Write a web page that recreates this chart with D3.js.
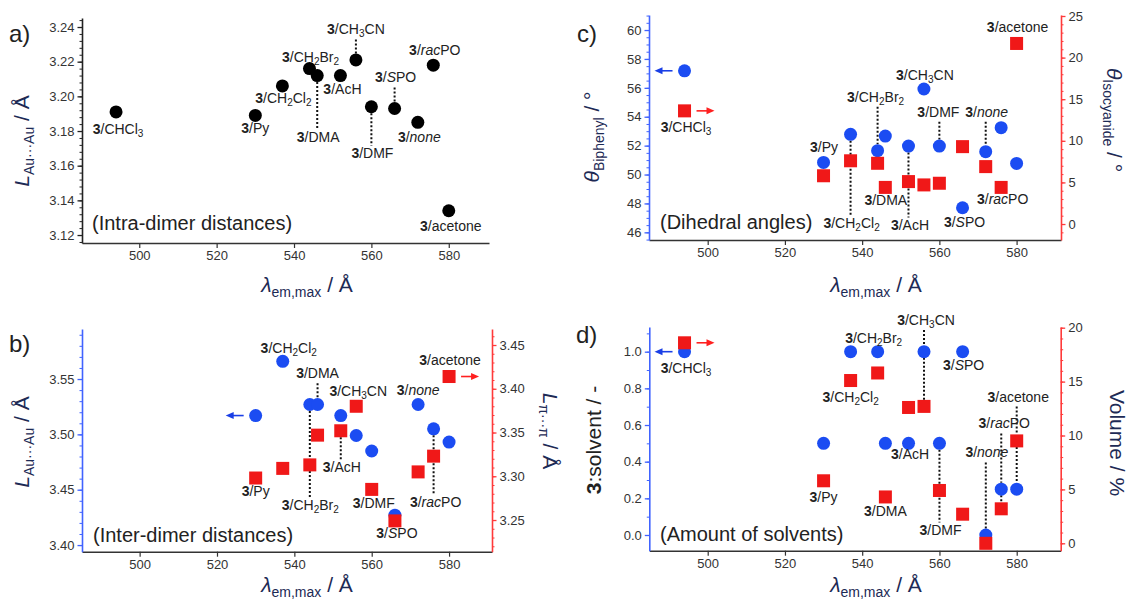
<!DOCTYPE html>
<html><head><meta charset="utf-8">
<script src="https://cdn.jsdelivr.net/npm/d3@7"></script>
<style>
body{margin:0;background:#fff;}
svg{display:block;font-family:"Liberation Sans",Arial,sans-serif;}
</style></head><body>
<svg id="chart" width="1131" height="608"></svg>
<script>
// ---------------- DATA ----------------
const categories = ["CHCl3","Py","CH2Cl2","CH2Br2","DMA","AcH","CH3CN","DMF","SPO","none","racPO","acetone"];
const lambdaEmMax = [494,530,537,544,546,552,556,560,566,572,576,580];
const intraDimerAuAu = [3.191,3.189,3.206,3.216,3.212,3.212,3.221,3.194,3.193,3.185,3.218,3.134];
const interDimerAuAu = [null,3.517,3.566,3.527,3.527,3.517,3.499,3.485,3.427,3.527,3.505,3.493];
const interDimerPiPi = [null,3.298,3.309,3.313,3.347,3.352,3.380,3.285,3.249,3.305,3.323,3.414];
const thetaBiphenyl = [57.18,50.84,52.78,51.65,52.66,51.97,55.92,51.97,47.70,51.58,53.24,50.77];
const thetaIsocyanide = [13.6,5.8,7.6,7.3,4.4,5.1,4.7,4.9,9.3,6.9,4.4,21.7];
const solventRatio = [1.0,0.5,1.0,1.0,0.5,0.5,1.0,0.5,1.0,0.0,0.25,0.25];
const solventVolume = [18.6,5.8,15.1,15.8,4.3,12.6,12.7,4.9,2.7,0.0,3.2,9.5];
const xTickValues = [500,520,540,560,580];
const labelMarkup = {CHCl3:"CHCl_3",Py:"Py",CH2Cl2:"CH_2Cl_2",CH2Br2:"CH_2Br_2",DMA:"DMA",AcH:"AcH",
  CH3CN:"CH_3CN",DMF:"DMF",SPO:"*S*PO",none:"*none*",racPO:"*rac*PO",acetone:"acetone"};

// ---------------- STYLE ----------------
const BLUE="#1b4cf2", RED="#f01818", AXBLUE="#4063ff", AXRED="#ff3a3a", TITLE="#1d2a55", TICK="#333";
const R=6.5, SQ=13;
const svg = d3.select("#chart");

function parseMarkup(str){
  const segs=[]; let it=false;
  for(let i=0;i<str.length;i++){
    const ch=str[i];
    if(ch==='*'){it=!it;continue;}
    if(ch==='_'){segs.push({t:str[i+1],sub:true,i:it});i++;continue;}
    const last=segs[segs.length-1];
    if(last && !last.sub && !!last.i===it && !last.b) last.t+=ch; else segs.push({t:ch,i:it});
  }
  return segs;
}
function richText(parent,x,y,segs,o){
  o=Object.assign({size:14,subSize:10,subDy:3,anchor:"middle",fill:"#222",transform:null},o||{});
  const t=parent.append("text").attr("x",x).attr("y",y).attr("text-anchor",o.anchor)
    .attr("font-size",o.size).attr("fill",o.fill);
  if(o.transform) t.attr("transform",o.transform);
  let shifted=0;
  segs.forEach(s=>{
    const ts=t.append("tspan").text(s.t);
    const want=s.sub?o.subDy:0;
    if(want!==shifted){ts.attr("dy",want-shifted);shifted=want;}
    if(s.sub) ts.attr("font-size",o.subSize);
    if(s.b) ts.attr("font-weight","bold");
    if(s.i) ts.attr("font-style","italic");
    if(s.fill) ts.attr("fill",s.fill);
  });
  return t;
}
function labelSegs(key){return [{t:"3",b:true},{t:"/"}].concat(parseMarkup(labelMarkup[key]));}

function drawAxis(g,axis,color,major,minor,fmt,dir){
  const mk=(vals,size,f)=>{
    const a=axis.copy?null:null;
  };
  const gen = dir;
  // minor ticks
  if(minor){
    const am=gen.copy? null:null;
  }
}

function panel(cfg){
  const g=svg.append("g");
  const x=cfg.x;
  // x axis
  const gx=g.append("g").attr("transform",`translate(0,${cfg.xAxisY})`)
    .call(d3.axisBottom(x).tickValues(xTickValues).tickSize(5).tickSizeOuter(0).tickPadding(3).tickFormat(d3.format("d")));
  gx.select(".domain").attr("stroke","#333").attr("stroke-width",1.5);
  gx.selectAll(".tick line").attr("stroke","#333").attr("stroke-width",1.2);
  gx.selectAll(".tick text").attr("font-size",13).attr("fill",TICK).attr("font-family","Liberation Sans, Arial");
  // y axes
  cfg.yAxes.forEach(ax=>{
    const gen = ax.side==="left"?d3.axisLeft(ax.scale):d3.axisRight(ax.scale);
    const gm=g.append("g").attr("transform",`translate(${ax.pos},0)`)
      .call((ax.side==="left"?d3.axisLeft(ax.scale):d3.axisRight(ax.scale)).tickValues(ax.minor).tickSize(2.5).tickSizeOuter(0).tickFormat(""));
    gm.select(".domain").remove();
    gm.selectAll(".tick line").attr("stroke",ax.color).attr("stroke-width",1);
    const ga=g.append("g").attr("transform",`translate(${ax.pos},0)`)
      .call(gen.tickValues(ax.major).tickSize(4.5).tickSizeOuter(0).tickPadding(3).tickFormat(d3.format(ax.fmt)));
    ga.select(".domain").attr("stroke",ax.color).attr("stroke-width",1.6);
    ga.selectAll(".tick line").attr("stroke",ax.color).attr("stroke-width",1.3);
    ga.selectAll(".tick text").attr("font-size",13).attr("fill",TICK).attr("font-family","Liberation Sans, Arial");
  });
  const yOf=(s,i)=>{const sr=cfg.series[s];return sr.scale(sr.values[i]);};
  const idx=k=>categories.indexOf(k);
  // leaders
  const dotted=(x0,y1,y2)=>g.append("line").attr("x1",x0).attr("x2",x0).attr("y1",y1).attr("y2",y2)
    .attr("stroke","#111").attr("stroke-width",2).attr("stroke-dasharray","2,2");
  cfg.labels.forEach(l=>{
    if(!l.lead) return;
    const i=idx(l.key), px=x(lambdaEmMax[i]), py=yOf(l.on,i), by=py+l.dy;
    if(l.dy<0) dotted(px,by+5,py-R); else dotted(px,py+R,by-12.5);
  });
  (cfg.connect||[]).forEach(k=>{
    const i=idx(k), px=x(lambdaEmMax[i]);
    const a=yOf("c",i), b=yOf("s",i);
    dotted(px,Math.min(a,b)+6,Math.max(a,b)-6);
  });
  // markers
  if(cfg.series.c){
    const s=cfg.series.c;
    g.append("g").selectAll("circle").data(lambdaEmMax.map((v,i)=>[v,s.values[i]]).filter(d=>d[1]!=null))
      .join("circle").attr("cx",d=>x(d[0])).attr("cy",d=>s.scale(d[1])).attr("r",R).attr("fill",s.color);
  }
  if(cfg.series.s){
    const s=cfg.series.s;
    g.append("g").selectAll("rect").data(lambdaEmMax.map((v,i)=>[v,s.values[i]]).filter(d=>d[1]!=null))
      .join("rect").attr("x",d=>x(d[0])-SQ/2).attr("y",d=>s.scale(d[1])-SQ/2).attr("width",SQ).attr("height",SQ).attr("fill",s.color);
  }
  // labels
  cfg.labels.forEach(l=>{
    const i=idx(l.key), px=x(lambdaEmMax[i]), py=yOf(l.on,i);
    richText(g,px+l.dx,py+l.dy,labelSegs(l.key),{size:14,subSize:10,subDy:3,fill:"#222"});
  });
  // arrows
  (cfg.arrows||[]).forEach(a=>{
    const i=idx(a.key), px=x(lambdaEmMax[i]), py=yOf(a.on,i), d=a.dir;
    const col=a.on==="c"?"#1a3fe6":"#ff2020";
    g.append("line").attr("x1",px+d*12).attr("x2",px+d*23).attr("y1",py).attr("y2",py).attr("stroke",col).attr("stroke-width",1.6);
    g.append("path").attr("d",`M${px+d*30},${py}L${px+d*22},${py-3.5}L${px+d*22},${py+3.5}Z`).attr("fill",col);
  });
  // note text
  g.append("text").attr("x",cfg.note.x).attr("y",cfg.note.y).attr("font-size",20).attr("fill","#222").text(cfg.note.t);
  // panel letter
  g.append("text").attr("x",cfg.letter.x).attr("y",cfg.letter.y).attr("font-size",24).attr("fill","#222").text(cfg.letter.t);
  // x title
  richText(g,cfg.xTitle.x,cfg.xTitle.y,[{t:"λ",i:true},{t:"em,max",sub:true},{t:" / Å"}],{size:21,subSize:14,subDy:5,fill:TITLE});
  // y titles
  cfg.titles.forEach(t=>{
    richText(g,0,0,t.segs,{size:21,subSize:14,subDy:t.rot<0?5:4,fill:t.fill||TITLE,transform:`translate(${t.x},${t.y}) rotate(${t.rot})`});
  });
}

// ---------- panel a ----------
const xa=d3.scaleLinear().domain([485.2,590.4]).range([82,489]);
const ya=d3.scaleLinear().domain([3.1154,3.2452]).range([243,18]);
panel({x:xa,xAxisY:243,
  yAxes:[{side:"left",pos:82,scale:ya,color:"#222",major:d3.range(3.12,3.2401,0.02),minor:d3.range(3.116,3.2441,0.004),fmt:".2f"}],
  series:{c:{values:intraDimerAuAu,scale:ya,color:"#000"}},
  labels:[
    {key:"CHCl3",on:"c",dx:2,dy:22},{key:"Py",on:"c",dx:0,dy:18},{key:"CH2Cl2",on:"c",dx:1,dy:17.5},
    {key:"CH2Br2",on:"c",dx:1,dy:-7},{key:"DMA",on:"c",dx:1,dy:66.5,lead:true},{key:"AcH",on:"c",dx:2,dy:18.5},
    {key:"CH3CN",on:"c",dx:0,dy:-25.5,lead:true},{key:"DMF",on:"c",dx:1,dy:51.5,lead:true},{key:"SPO",on:"c",dx:1,dy:-26,lead:true},
    {key:"none",on:"c",dx:1.5,dy:19.5},{key:"racPO",on:"c",dx:1.5,dy:-10},{key:"acetone",on:"c",dx:2,dy:20}],
  note:{x:92,y:230,t:"(Intra-dimer distances)"},
  letter:{x:9,y:42,t:"a)"},
  xTitle:{x:307,y:292},
  titles:[{x:29,y:141,rot:-90,segs:[{t:"L",i:true},{t:"Au···Au",sub:true},{t:" / Å"}]}]
});

// ---------- panel b ----------
const xb=d3.scaleLinear().domain([485.1,591.1]).range([82,492]);
const ybL=d3.scaleLinear().domain([3.394,3.5952]).range([551.7,329]);
const ybR=d3.scaleLinear().domain([3.2138,3.4683]).range([551.7,329]);
panel({x:xb,xAxisY:551.7,
  yAxes:[{side:"left",pos:82,scale:ybL,color:AXBLUE,major:[3.40,3.45,3.50,3.55],minor:d3.range(3.40,3.591,0.01),fmt:".2f"},
         {side:"right",pos:492,scale:ybR,color:AXRED,major:[3.25,3.30,3.35,3.40,3.45],minor:d3.range(3.22,3.461,0.01),fmt:".2f"}],
  series:{c:{values:interDimerAuAu,scale:ybL,color:BLUE},s:{values:interDimerPiPi,scale:ybR,color:RED}},
  labels:[
    {key:"Py",on:"s",dx:0,dy:18.4},{key:"CH2Cl2",on:"c",dx:6,dy:-8.3},{key:"DMA",on:"c",dx:0,dy:-26.3,lead:true},
    {key:"CH2Br2",on:"c",dx:0.5,dy:105.3,lead:true},{key:"CH3CN",on:"s",dx:2,dy:-10.7},{key:"AcH",on:"s",dx:1,dy:41.7,lead:true},
    {key:"DMF",on:"s",dx:2,dy:19},{key:"SPO",on:"s",dx:2,dy:17},{key:"none",on:"c",dx:0,dy:-9},
    {key:"racPO",on:"c",dx:2,dy:78.3,lead:true},{key:"acetone",on:"s",dx:1,dy:-11.3}],
  arrows:[{key:"Py",on:"c",dir:-1},{key:"acetone",on:"s",dir:1}],
  note:{x:93,y:541.7,t:"(Inter-dimer distances)"},
  letter:{x:9,y:352,t:"b)"},
  xTitle:{x:307,y:592},
  titles:[{x:29,y:442,rot:-90,segs:[{t:"L",i:true},{t:"Au···Au",sub:true},{t:" / Å"}]},
          {x:543,y:431,rot:90,segs:[{t:"L",i:true},{t:"π···π",sub:true},{t:" / Å"}]}]
});

// ---------- panel c ----------
const xc=d3.scaleLinear().domain([484.8,591.5]).range([649,1061]);
const ycL=d3.scaleLinear().domain([45.47,61.04]).range([240,15]);
const ycR=d3.scaleLinear().domain([-1.92,25.12]).range([240,15]);
panel({x:xc,xAxisY:240,
  yAxes:[{side:"left",pos:649,scale:ycL,color:AXBLUE,major:d3.range(46,60.1,2),minor:d3.range(45.5,61.01,0.5),fmt:"d"},
         {side:"right",pos:1061,scale:ycR,color:AXRED,major:d3.range(0,25.1,5),minor:d3.range(-1,25.1,1),fmt:"d"}],
  series:{c:{values:thetaBiphenyl,scale:ycL,color:BLUE},s:{values:thetaIsocyanide,scale:ycR,color:RED}},
  labels:[
    {key:"CHCl3",on:"s",dx:1.5,dy:20.7},{key:"Py",on:"c",dx:0.5,dy:-10.6},{key:"CH2Cl2",on:"c",dx:1,dy:94,lead:true},
    {key:"CH2Br2",on:"c",dx:-2,dy:-49,lead:true},{key:"DMA",on:"s",dx:0.5,dy:17.7},{key:"AcH",on:"c",dx:1.5,dy:84,lead:true},
    {key:"CH3CN",on:"c",dx:1,dy:-9},{key:"DMF",on:"c",dx:-1,dy:-29.3,lead:true},{key:"none",on:"c",dx:1,dy:-35,lead:true},
    {key:"SPO",on:"c",dx:2,dy:19},{key:"racPO",on:"s",dx:1.5,dy:16.3},{key:"acetone",on:"s",dx:1,dy:-11.6}],
  arrows:[{key:"CHCl3",on:"c",dir:-1},{key:"CHCl3",on:"s",dir:1}],
  note:{x:660,y:229.3,t:"(Dihedral angles)"},
  letter:{x:577,y:42,t:"c)"},
  xTitle:{x:876,y:292},
  titles:[{x:599,y:137,rot:-90,segs:[{t:"θ",i:true},{t:"Biphenyl",sub:true},{t:" / °"}]},
          {x:1107,y:120,rot:90,segs:[{t:"θ",i:true},{t:"Isocyanide",sub:true},{t:" / °"}]}]
});

// ---------- panel d ----------
const xd=d3.scaleLinear().domain([484.88,591.39]).range([649.3,1060.7]);
const ydL=d3.scaleLinear().domain([-0.0857,1.1347]).range([550.7,327]);
const ydR=d3.scaleLinear().domain([-0.686,20.065]).range([550.7,327]);
panel({x:xd,xAxisY:550.7,
  yAxes:[{side:"left",pos:649.3,scale:ydL,color:AXBLUE,major:[0,0.2,0.4,0.6,0.8,1.0],minor:d3.range(0,1.101,0.1),fmt:".1f"},
         {side:"right",pos:1060.7,scale:ydR,color:AXRED,major:[0,5,10,15,20],minor:d3.range(0,20.1,1),fmt:"d"}],
  series:{c:{values:solventRatio,scale:ydL,color:BLUE},s:{values:solventVolume,scale:ydR,color:RED}},
  labels:[
    {key:"CHCl3",on:"c",dx:1.5,dy:21.6},{key:"CH2Cl2",on:"s",dx:0,dy:21.7},{key:"Py",on:"s",dx:0,dy:21},
    {key:"CH2Br2",on:"c",dx:-4,dy:-8.4},{key:"CH3CN",on:"c",dx:2,dy:-26.7,lead:true},{key:"SPO",on:"c",dx:1,dy:18.3},
    {key:"AcH",on:"c",dx:1.5,dy:16},{key:"DMA",on:"s",dx:0,dy:19.3},{key:"DMF",on:"c",dx:1,dy:91.7,lead:true},
    {key:"none",on:"c",dx:1,dy:-77.6,lead:true},{key:"racPO",on:"c",dx:3,dy:-60.7,lead:true},{key:"acetone",on:"s",dx:1.5,dy:-39.3,lead:true}],
  connect:["CH3CN","racPO","acetone"],
  arrows:[{key:"CHCl3",on:"c",dir:-1},{key:"CHCl3",on:"s",dir:1}],
  note:{x:660,y:540.7,t:"(Amount of solvents)"},
  letter:{x:576,y:343,t:"d)"},
  xTitle:{x:876,y:592},
  titles:[{x:601,y:440,rot:-90,fill:"#222",segs:[{t:"3",b:true},{t:":solvent / -"}]},
          {x:1110,y:443,rot:90,segs:[{t:"Volume / %"}]}]
});
</script>
</body></html>
